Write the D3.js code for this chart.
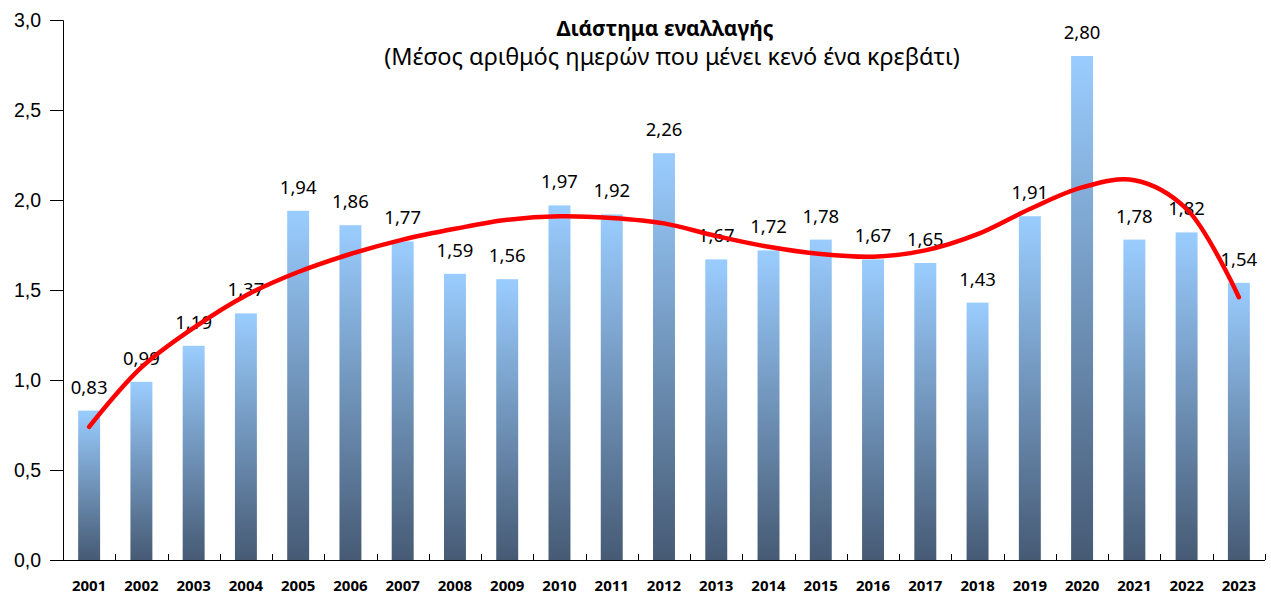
<!DOCTYPE html>
<html>
<head>
<meta charset="utf-8">
<script src="https://cdn.jsdelivr.net/npm/d3@7"></script>
<style>
  body { margin: 0; background: #fff; }
  svg { display: block; font-family: 'Noto Sans', 'DejaVu Sans', sans-serif; }
</style>
</head>
<body>
<svg id="svg_bar" width="1271" height="594"></svg>
<script>
// Data
const years = ['2001', '2002', '2003', '2004', '2005', '2006', '2007', '2008', '2009', '2010', '2011', '2012',
  '2013', '2014', '2015', '2016', '2017', '2018', '2019', '2020', '2021', '2022', '2023'];
const values = [0.83, 0.99, 1.19, 1.37, 1.94, 1.86, 1.77, 1.59, 1.56, 1.97, 1.92, 2.26,
  1.67, 1.72, 1.78, 1.67, 1.65, 1.43, 1.91, 2.80, 1.78, 1.82, 1.54];
// polynomial trend line as drawn in the picture (one point per year)
const trend = [0.74, 1.07, 1.29, 1.47, 1.60, 1.70, 1.78, 1.84, 1.89, 1.91, 1.90, 1.87,
  1.80, 1.74, 1.70, 1.685, 1.72, 1.81, 1.95, 2.07, 2.11, 1.95, 1.46];
const y_ticks = [0, 0.5, 1, 1.5, 2, 2.5, 3];
const title = 'Διάστημα εναλλαγής';
const subtitle = '(Μέσος αριθμός ημερών που μένει κενό ένα κρεβάτι)';

const svg = d3.select('#svg_bar');
const margin = { top: 20, right: 6, bottom: 34, left: 63 };
const width = +svg.attr('width') - margin.left - margin.right;
const height = +svg.attr('height') - margin.top - margin.bottom;
const fmt = v => d3.format('.2f')(v).replace('.', ',');

const x = d3.scaleBand().domain(years).range([0, width]).paddingInner(0.58).paddingOuter(0.29);
const y = d3.scaleLinear().domain([0, 3]).range([height, 0]);

const defs = svg.append('defs');
const grad = defs.append('linearGradient')
  .attr('id', 'bar_grad')
  .attr('x1', 0).attr('y1', 0).attr('x2', 0).attr('y2', 1);
grad.append('stop').attr('offset', '0%').attr('stop-color', '#9acdff');
grad.append('stop').attr('offset', '100%').attr('stop-color', '#465a74');

const plot = svg.append('g')
  .attr('transform', `translate(${[margin.left, margin.top]})`);

plot.append('g')
  .selectAll('rect')
  .data(values)
  .enter()
  .append('rect')
  .attr('x', (d, i) => x(years[i]))
  .attr('y', d => y(d))
  .attr('width', x.bandwidth())
  .attr('height', d => height - y(d))
  .attr('fill', 'url(#bar_grad)');

plot.append('g')
  .selectAll('text')
  .data(values)
  .enter()
  .append('text')
  .attr('x', (d, i) => x(years[i]) + x.bandwidth() / 2)
  .attr('y', d => y(d) - 17)
  .attr('text-anchor', 'middle')
  .style('font-size', '18.5px')
  .style('fill', '#000')
  .text(d => fmt(d));

const line = d3.line()
  .x((d, i) => x(years[i]) + x.bandwidth() / 2)
  .y(d => y(d))
  .curve(d3.curveCatmullRom.alpha(0.5));

plot.append('path')
  .datum(trend)
  .attr('d', line)
  .attr('fill', 'none')
  .attr('stroke', '#ff0000')
  .attr('stroke-width', 4.5)
  .attr('stroke-linecap', 'round');

// y axis
const y_axis = plot.append('g')
  .call(d3.axisLeft(y).tickValues(y_ticks).tickSize(13).tickPadding(9)
    .tickFormat(d => d3.format('.1f')(d).replace('.', ',')));
y_axis.select('.domain').attr('d', `M-13,0.5H0.5V${height}`);
y_axis.selectAll('text').style('font-size', '19.5px').style('fill', '#000').attr('dy', '0.35em');

// x axis, ticks between categories pointing inside
const bounds = years.map(d => x(d) - x.step() * x.paddingInner() / 2).concat([width]);
const x_axis = plot.append('g').attr('transform', `translate(0,${height})`);
x_axis.append('line')
  .attr('x1', 0).attr('x2', width)
  .attr('y1', 0.5).attr('y2', 0.5)
  .attr('stroke', '#000');
x_axis.selectAll('.tick_mark')
  .data(bounds)
  .enter()
  .append('line')
  .attr('class', 'tick_mark')
  .attr('x1', d => Math.round(d) + 0.5).attr('x2', d => Math.round(d) + 0.5)
  .attr('y1', 0).attr('y2', -6)
  .attr('stroke', '#000');
x_axis.selectAll('.year')
  .data(years)
  .enter()
  .append('text')
  .attr('class', 'year')
  .attr('x', d => x(d) + x.bandwidth() / 2)
  .attr('y', 31)
  .attr('text-anchor', 'middle')
  .style('font-size', '15px')
  .style('font-weight', 'bold')
  .style('fill', '#000')
  .text(d => d);

plot.selectAll('.domain, .tick line').attr('stroke', '#000');

// titles
svg.append('text')
  .attr('x', 665)
  .attr('y', 36)
  .attr('text-anchor', 'middle')
  .style('font-size', '21px')
  .style('font-weight', 'bold')
  .text(title);
svg.append('text')
  .attr('x', 672)
  .attr('y', 65)
  .attr('text-anchor', 'middle')
  .style('font-size', '23.5px')
  .text(subtitle);
</script>
</body>
</html>
